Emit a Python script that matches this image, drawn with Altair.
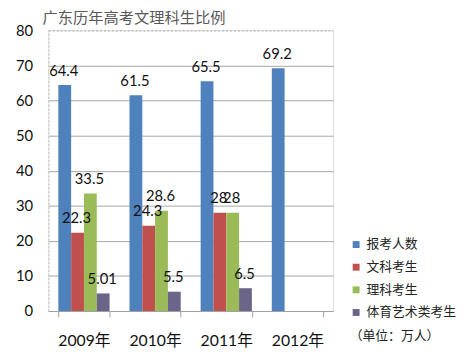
import altair as alt
import pandas as pd

years = ["2009年", "2010年", "2011年", "2012年"]
series = ["报考人数", "文科考生", "理科考生", "体育艺术类考生"]
colors = ["#4F81BD", "#C0504D", "#9BBB59", "#6b6689"]
values = {
    "报考人数": [64.4, 61.5, 65.5, 69.2],
    "文科考生": [22.3, 24.3, 28, None],
    "理科考生": [33.5, 28.6, 28, None],
    "体育艺术类考生": [5.01, 5.5, 6.5, None],
}

rows = []
for s in series:
    for y, v in zip(years, values[s]):
        if v is not None:
            rows.append({"year": y, "series": s, "value": v, "label": f"{v:g}"})
df = pd.DataFrame(rows)

FONT = "Lato, Noto Sans CJK SC"

x = alt.X("year:N", sort=years, title=None,
          scale=alt.Scale(paddingInner=0.28, paddingOuter=0.14),
          axis=alt.Axis(labelAngle=0, labelFontSize=16, labelColor="#111111",
                        labelFont=FONT, labelPadding=16, tickBand="extent",
                        tickSize=6, tickColor="#a0a0a0", domainColor="#a0a0a0"))
xo = alt.XOffset("series:N", sort=series, scale=alt.Scale(domain=series, paddingInner=0, paddingOuter=0))
y = alt.Y("value:Q", title=None,
          scale=alt.Scale(domain=[0, 80], nice=False),
          axis=alt.Axis(values=[0, 10, 20, 30, 40, 50, 60, 70, 80], ticks=False,
                        labelFontSize=15, labelColor="#111111", labelFont=FONT,
                        labelPadding=16, domainColor="#c0c0c0", domainDash=[2, 2],
                        gridColor="#a6a6a6",
                        gridDash={"condition": {"test": "datum.value === 80", "value": [2, 2]}, "value": []}))

color = alt.Color("series:N", sort=series,
                  scale=alt.Scale(domain=series, range=colors),
                  legend=alt.Legend(title=None, orient="none", legendX=306, legendY=211,
                                    symbolType="square", symbolSize=49, symbolStrokeWidth=0,
                                    labelFontSize=13, labelFont=FONT, labelColor="#222222",
                                    rowPadding=9, labelOffset=4, padding=0))

bars = alt.Chart(df).mark_bar().encode(x=x, xOffset=xo, y=y, color=color)
labels = alt.Chart(df).mark_text(fontSize=15, font=FONT, color="#111111", baseline="alphabetic",
                                 dy=-9.5, dx=-1).encode(x=x, xOffset=xo, y=y, text="label:N")
unit = alt.Chart(pd.DataFrame({"t": ["（单位：万人）"]})).mark_text(
    fontSize=13, font=FONT, color="#222222", align="left", baseline="middle"
).encode(x=alt.value(306), y=alt.value(310), text="t:N")

chart = alt.layer(bars, labels, unit).properties(
    width=289, height=285,
    padding={"left": 7, "top": 0, "right": 5, "bottom": 5},
    title=alt.TitleParams("广东历年高考文理科生比例", anchor="start", frame="group", dx=-6,
                          fontSize=15.5, font=FONT, color="#595959", fontWeight="normal", offset=-3),
).configure_view(stroke=None).configure(background="white")

chart.save("out.html", embed_options={"renderer": "svg", "actions": False})
